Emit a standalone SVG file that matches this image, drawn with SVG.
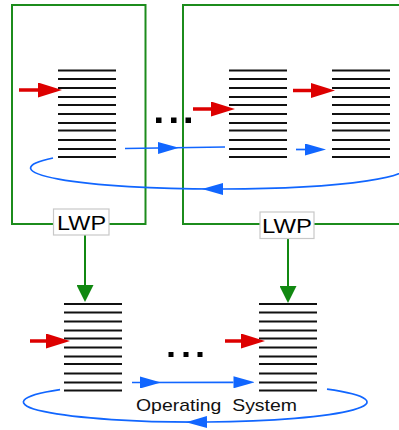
<svg xmlns="http://www.w3.org/2000/svg" xmlns:xlink="http://www.w3.org/1999/xlink" width="399" height="430" viewBox="0 0 399 430">
  <style>
    .proc { fill: none; stroke: #1c8c1c; stroke-width: 2; }
    .lwp-box { fill: #ffffff; stroke: #c8c8c8; stroke-width: 1.2; }
    .lwp-text { font-family: "Liberation Sans", Arial, sans-serif; font-size: 20px; fill: #000; }
    .os-text { font-family: "Liberation Sans", Arial, sans-serif; font-size: 17px; fill: #111; }
    .stack line { stroke: #111; stroke-width: 1.8; }
    .dot { fill: #000; }
    .red { fill: none; stroke: #dd0000; stroke-width: 3.5; }
    .blue { fill: none; stroke: #1166ff; stroke-width: 1.7; }
    .green { fill: none; stroke: #118811; stroke-width: 2; }
  </style>
  <defs>
    <marker id="head-red" markerUnits="userSpaceOnUse" viewBox="0 0 24 15" refX="1" refY="7.5" markerWidth="24" markerHeight="15" orient="auto">
      <path d="M0,0 L24,7.5 L0,15 Z" fill="#dd0000"/>
    </marker>
    <marker id="head-blue" markerUnits="userSpaceOnUse" viewBox="0 0 21 12" refX="0" refY="6" markerWidth="21" markerHeight="12" orient="auto">
      <path d="M0,0 L21,6 L0,12 Z" fill="#1166ff"/>
    </marker>
    <marker id="head-green" markerUnits="userSpaceOnUse" viewBox="0 0 17 17" refX="1" refY="8.5" markerWidth="17" markerHeight="17" orient="auto">
      <path d="M0,0 L17,8.5 L0,17 Z" fill="#118811"/>
    </marker>
    <!-- a thread/kernel stack: eleven horizontal bars -->
    <g id="stack" class="stack">
      <line x1="0" y1="0" x2="58" y2="0"/>
      <line x1="0" y1="8.5" x2="58" y2="8.5"/>
      <line x1="0" y1="17.5" x2="58" y2="17.5"/>
      <line x1="0" y1="26.5" x2="58" y2="26.5"/>
      <line x1="0" y1="34.5" x2="58" y2="34.5"/>
      <line x1="0" y1="43.5" x2="58" y2="43.5"/>
      <line x1="0" y1="52.5" x2="58" y2="52.5"/>
      <line x1="0" y1="60" x2="58" y2="60"/>
      <line x1="0" y1="69.5" x2="58" y2="69.5"/>
      <line x1="0" y1="78.5" x2="58" y2="78.5"/>
      <line x1="0" y1="86.5" x2="58" y2="86.5"/>
    </g>
  </defs>

  <!-- processes -->
  <g id="process-1">
    <rect class="proc" x="12" y="5" width="133.5" height="219"/>
    <use xlink:href="#stack" href="#stack" x="58" y="70.5"/>
  </g>
  <g id="process-2">
    <rect class="proc" x="183" y="5" width="230" height="219"/>
    <use xlink:href="#stack" href="#stack" x="229" y="70.5"/>
    <use xlink:href="#stack" href="#stack" x="332" y="70.5"/>
  </g>
  <g id="ellipsis-user">
    <rect class="dot" x="156" y="117.5" width="5.5" height="5.5"/>
    <rect class="dot" x="171" y="117.5" width="5.5" height="5.5"/>
    <rect class="dot" x="185.5" y="117.5" width="5.5" height="5.5"/>
  </g>

  <!-- kernel side -->
  <g id="kernel-1">
    <use xlink:href="#stack" href="#stack" x="64" y="304"/>
  </g>
  <g id="kernel-2">
    <use xlink:href="#stack" href="#stack" x="259" y="304"/>
  </g>
  <g id="ellipsis-kernel">
    <rect class="dot" x="168.5" y="352" width="5" height="5"/>
    <rect class="dot" x="183.5" y="352" width="5" height="5"/>
    <rect class="dot" x="197.5" y="352" width="5" height="5"/>
  </g>

  <!-- connectors -->
  <g id="connectors">
    <!-- current instruction pointers -->
    <line class="red" x1="19" y1="90" x2="39" y2="90" marker-end="url(#head-red)"/>
    <line class="red" x1="193" y1="109" x2="212" y2="109" marker-end="url(#head-red)"/>
    <line class="red" x1="293" y1="90.5" x2="312" y2="90.5" marker-end="url(#head-red)"/>
    <line class="red" x1="30" y1="341" x2="47" y2="341" marker-end="url(#head-red)"/>
    <line class="red" x1="225" y1="341" x2="242" y2="341" marker-end="url(#head-red)"/>

    <!-- user-level scheduling -->
    <path class="blue" d="M125,148.5 L158,148 L225,147" marker-mid="url(#head-blue)"/>
    <path class="blue" d="M296,149.5 L305,149.5" marker-end="url(#head-blue)"/>
    <path class="blue" d="M400.5,163 A185 21 0 0 1 223,189 A185 21 0 0 1 53,158" marker-mid="url(#head-blue)"/>

    <!-- kernel scheduling -->
    <path class="blue" d="M132,382.5 L140,382.5 L233.5,382.3" marker-mid="url(#head-blue)" marker-end="url(#head-blue)"/>
    <path class="blue" d="M327,389.2 A171.5 20 0 0 1 207,422 A171.5 20 0 0 1 60,389.7" marker-mid="url(#head-blue)"/>

    <!-- LWP to kernel thread -->
    <line class="green" x1="85" y1="235" x2="85" y2="286" marker-end="url(#head-green)"/>
    <line class="green" x1="288" y1="238" x2="288" y2="287" marker-end="url(#head-green)"/>
  </g>

  <!-- LWP labels -->
  <g id="lwp-1">
    <rect class="lwp-box" x="53.5" y="209" width="55.5" height="26"/>
    <text class="lwp-text" x="57" y="229.5" textLength="49" lengthAdjust="spacingAndGlyphs">LWP</text>
  </g>
  <g id="lwp-2">
    <rect class="lwp-box" x="260" y="212" width="54" height="26.5"/>
    <text class="lwp-text" x="262" y="232.5" textLength="50" lengthAdjust="spacingAndGlyphs">LWP</text>
  </g>

  <g id="os-label">
    <text class="os-text" x="136" y="410.5" textLength="161" lengthAdjust="spacingAndGlyphs" xml:space="preserve">Operating  System</text>
  </g>
</svg>
